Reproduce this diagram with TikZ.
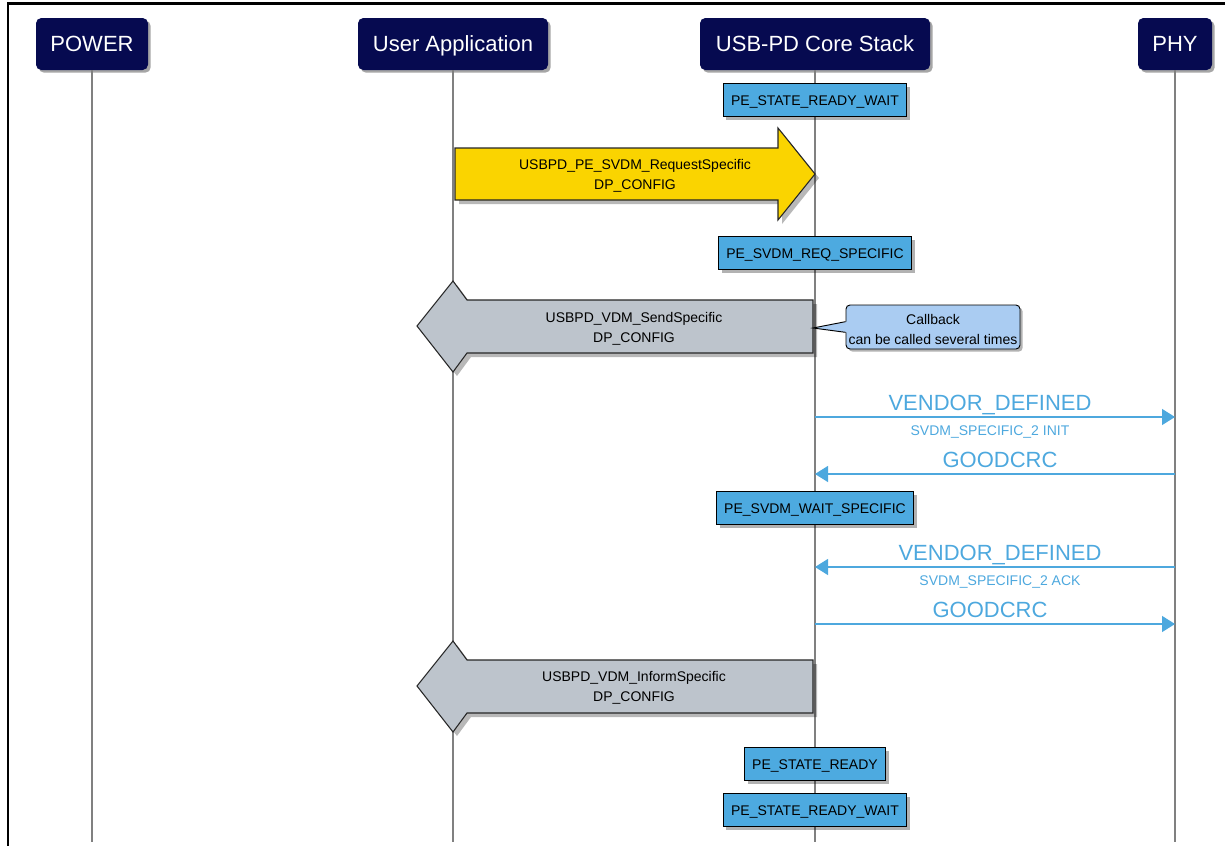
\documentclass[tikz,border=0pt]{standalone}
\usepackage{fontspec}
\setmainfont{Liberation Sans}
\usetikzlibrary{arrows.meta,shadows}
\definecolor{navy}{RGB}{6,10,80}
\definecolor{stateblue}{RGB}{77,170,224}
\definecolor{msgblue}{RGB}{77,168,222}
\definecolor{ylw}{RGB}{250,212,0}
\definecolor{grayarrow}{RGB}{189,196,204}
\definecolor{callblue}{RGB}{170,204,242}
\definecolor{lifegray}{RGB}{128,128,128}
\tikzset{
  header/.style={fill=navy, rounded corners=4pt, text=white,
    font=\fontsize{16.5}{18}\selectfont, minimum height=39pt, inner sep=0pt,
    text height=13pt, text depth=1.2pt,
    drop shadow={shadow xshift=2pt,shadow yshift=-2pt,fill=black,opacity=0.35}},
  statebox/.style={fill=stateblue, draw=black, line width=0.8pt,
    minimum height=24.75pt, inner xsep=6pt, inner ysep=0pt,
    text height=9pt, text depth=1pt,
    font=\fontsize{10.5}{13}\selectfont,
    drop shadow={shadow xshift=2.5pt,shadow yshift=-2.5pt,fill=black,opacity=0.3}},
  life/.style={draw=lifegray, line width=1.4pt},
  msg/.style={draw=msgblue, line width=1pt, -{Triangle[length=9.75pt,width=12pt]}},
  msglabel/.style={text=msgblue, font=\fontsize{16.5}{18}\selectfont, anchor=base, inner sep=0pt},
  msgsub/.style={text=msgblue, font=\fontsize{10.5}{13}\selectfont, anchor=base, inner sep=0pt},
  blockshadow/.style={fill=black, opacity=0.28},
  arrowtext/.style={align=center, font=\fontsize{10.5}{15}\selectfont, inner sep=0pt},
  callbox/.style={fill=callblue, draw=black, line width=0.7pt, rounded corners=3pt,
    minimum width=130.5pt, minimum height=33pt, inner sep=0pt,
    font=\fontsize{10.5}{15}\selectfont,
    drop shadow={shadow xshift=2pt,shadow yshift=-2pt,fill=black,opacity=0.3}}
}
\begin{document}
\begin{tikzpicture}[x=0.75pt,y=-0.75pt]
\useasboundingbox (0,0) rectangle (1225,846);
% frame
\coordinate (fbl) at (8,846);
\coordinate (ftl) at (8,3.5);
\coordinate (ftr) at (1225,3.5);
\draw[line width=2.2pt] (fbl) -- (ftl) -- (ftr);

% headers
\node[header, minimum width=84pt]    (power) at (92,44)   {POWER};
\node[header, minimum width=142.5pt] (app)   at (453,44)  {User Application};
\node[header, minimum width=172.5pt] (core)  at (815,44)  {USB-PD Core Stack};
\node[header, minimum width=55.5pt]  (phy)   at (1175,44) {PHY};

% lifelines
\coordinate (powerEnd) at (92,842);
\coordinate (appEnd)   at (453,842);
\coordinate (coreEnd)  at (815,842);
\coordinate (phyEnd)   at (1175,842);
\draw[life] (power.south) -- (powerEnd);
\draw[life] (app.south) -- (appEnd);
\draw[life] (core.south) -- (coreEnd);
\draw[life] (phy.south) -- (phyEnd);

% state boxes
\node[statebox] (s1) at (815,100) {PE\_STATE\_READY\_WAIT};
\node[statebox] (s2) at (815,253) {PE\_SVDM\_REQ\_SPECIFIC};
\node[statebox] (s3) at (815,508) {PE\_SVDM\_WAIT\_SPECIFIC};
\node[statebox] (s4) at (815,764) {PE\_STATE\_READY};
\node[statebox] (s5) at (815,810) {PE\_STATE\_READY\_WAIT};

% yellow request arrow
\path[blockshadow, shift={(4,4)}] (455,148) -- (778,148) -- (778,128) -- (815,174) -- (778,220) -- (778,200) -- (455,200) -- cycle;
\draw[fill=ylw, draw=black!85, line width=0.8pt] (455,148) -- (778,148) -- (778,128) -- (815,174) -- (778,220) -- (778,200) -- (455,200) -- cycle;
\node[arrowtext] (req) at (635,176) {USBPD\_PE\_SVDM\_RequestSpecific\\DP\_CONFIG};

% gray send arrow
\path[blockshadow, shift={(4,4)}] (417,326) -- (453,281) -- (467,300) -- (813,300) -- (813,353) -- (467,353) -- (453,372) -- cycle;
\draw[fill=grayarrow, draw=black!85, line width=0.8pt] (417,326) -- (453,281) -- (467,300) -- (813,300) -- (813,353) -- (467,353) -- (453,372) -- cycle;
\node[arrowtext] (send) at (634,329) {USBPD\_VDM\_SendSpecific\\DP\_CONFIG};

% callout
\node[callbox] (cb) at (933,327) {};
\node[arrowtext] (cbtext) at (933,329.5) {Callback\\can be called several times};
\coordinate (cbt) at (813,328);
\fill[callblue] ([xshift=1pt,yshift=4pt]cb.west) -- (cbt) -- ([xshift=1pt,yshift=-4pt]cb.west) -- cycle;
\draw[black, line width=0.7pt] ([yshift=4pt]cb.west) -- (cbt) -- ([yshift=-4pt]cb.west);

% messages
\coordinate (m1a) at (815,417);  \coordinate (m1b) at (1175,417);
\coordinate (m2a) at (1175,474); \coordinate (m2b) at (815,474);
\coordinate (m3a) at (1175,567); \coordinate (m3b) at (815,567);
\coordinate (m4a) at (815,624);  \coordinate (m4b) at (1175,624);
\draw[msg] (m1a) -- (m1b);
\node[msglabel] (l1) at (990,410) {VENDOR\_DEFINED};
\node[msgsub]   (l1s) at (990,435) {SVDM\_SPECIFIC\_2 INIT};
\draw[msg] (m2a) -- (m2b);
\node[msglabel] (l2) at (1000,467) {GOODCRC};
\draw[msg] (m3a) -- (m3b);
\node[msglabel] (l3) at (1000,560) {VENDOR\_DEFINED};
\node[msgsub]   (l3s) at (1000,585) {SVDM\_SPECIFIC\_2 ACK};
\draw[msg] (m4a) -- (m4b);
\node[msglabel] (l4) at (990,617) {GOODCRC};

% gray inform arrow
\path[blockshadow, shift={(4,4)}] (417,686) -- (453,641) -- (467,660) -- (813,660) -- (813,713) -- (467,713) -- (453,732) -- cycle;
\draw[fill=grayarrow, draw=black!85, line width=0.8pt] (417,686) -- (453,641) -- (467,660) -- (813,660) -- (813,713) -- (467,713) -- (453,732) -- cycle;
\node[arrowtext] (inform) at (634,688) {USBPD\_VDM\_InformSpecific\\DP\_CONFIG};
\end{tikzpicture}
\end{document}
